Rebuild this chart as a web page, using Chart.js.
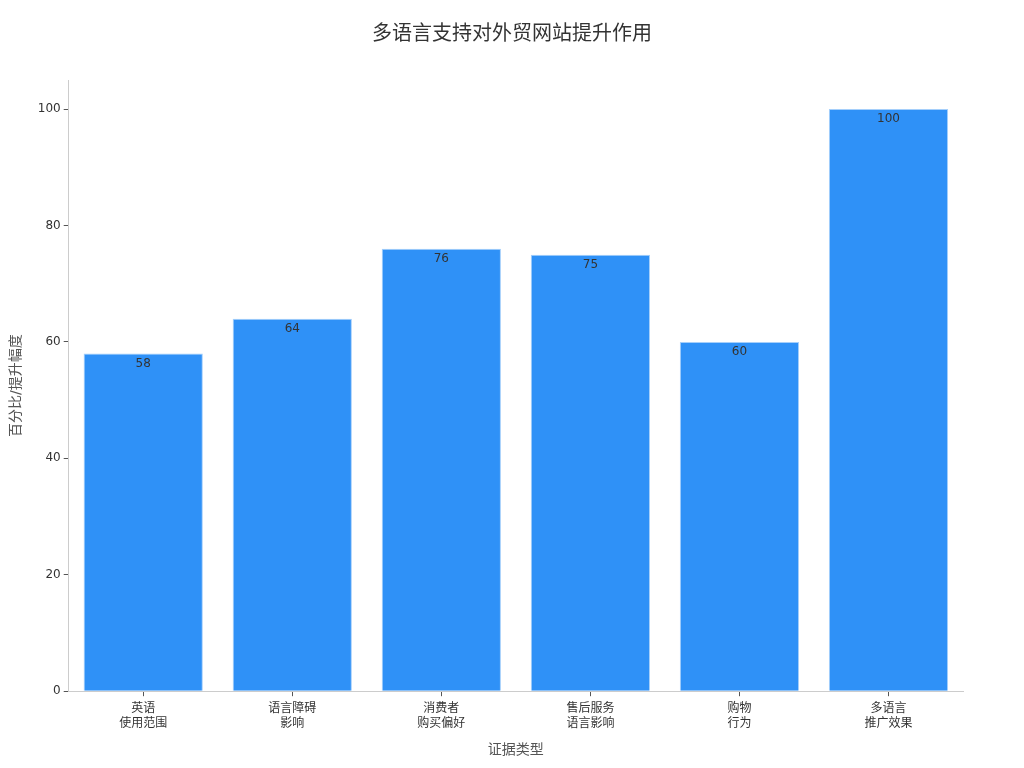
<!DOCTYPE html>
<html>
<head>
<meta charset="utf-8">
<script src="https://cdn.jsdelivr.net/npm/chart.js@4"></script>
<style>
  html, body { margin: 0; padding: 0; background: #fff; }
  #wrap { width: 1024px; height: 768px; }
</style>
</head>
<body>
<div id="wrap"><canvas id="chart" width="1024" height="768"></canvas></div>
<script>
// chart data
const categories = [
    ["英语", "使用范围"],
    ["语言障碍", "影响"],
    ["消费者", "购买偏好"],
    ["售后服务", "语言影响"],
    ["购物", "行为"],
    ["多语言", "推广效果"]
];
const values = [58, 64, 76, 75, 60, 100];
const yTicks = [0, 20, 40, 60, 80, 100];
const chartTitle = "多语言支持对外贸网站提升作用";

const fontFamily = "'DejaVu Sans', 'Noto Sans CJK SC', sans-serif";

// value labels just inside the top of each bar, plus a title centred on the page
const barLabels = {
    id: "barLabels",
    afterDatasetsDraw(chart) {
        const c = chart.ctx;
        const meta = chart.getDatasetMeta(0);
        c.save();
        c.font = "12px " + fontFamily;
        c.fillStyle = "#333333";
        c.textAlign = "center";
        c.textBaseline = "top";
        meta.data.forEach((bar, i) => {
            c.fillText(String(values[i]), bar.x, bar.y + 4);
        });
        c.font = "20px " + fontFamily;
        c.textBaseline = "middle";
        c.fillText(chartTitle, chart.width / 2, 35);
        c.restore();
    }
};

const ctx = document.getElementById("chart").getContext("2d");
new Chart(ctx, {
    type: "bar",
    data: {
        labels: categories,
        datasets: [{
            data: values,
            backgroundColor: "#2f91f7",
            borderColor: "#a5cffb",
            borderWidth: 1,
            categoryPercentage: 0.8,
            barPercentage: 1.0
        }]
    },
    options: {
        responsive: false,
        animation: false,
        layout: { padding: { left: 4, right: 61, top: 80, bottom: 5 } },
        plugins: {
            legend: { display: false },
            tooltip: { enabled: false },
            title: { display: false }
        },
        scales: {
            x: {
                border: { color: "#cccccc" },
                grid: { drawOnChartArea: false, offset: false, tickLength: 5, color: "#555555" },
                ticks: { color: "#333333", font: { family: fontFamily, size: 12, lineHeight: 1.25 }, padding: 5 },
                title: {
                    display: true,
                    text: "证据类型",
                    color: "#555555",
                    font: { family: fontFamily, size: 14 },
                    padding: { top: 6 }
                }
            },
            y: {
                min: 0,
                max: 105,
                border: { color: "#cccccc" },
                grid: { drawOnChartArea: false, tickLength: 5, color: "#555555" },
                afterBuildTicks(scale) {
                    scale.ticks = yTicks.map(v => ({ value: v }));
                },
                ticks: { color: "#333333", font: { family: fontFamily, size: 12 }, padding: 3 },
                title: {
                    display: true,
                    text: "百分比/提升幅度",
                    color: "#555555",
                    font: { family: fontFamily, size: 14 },
                    padding: { bottom: 10 }
                }
            }
        }
    },
    plugins: [barLabels]
});
</script>
</body>
</html>
